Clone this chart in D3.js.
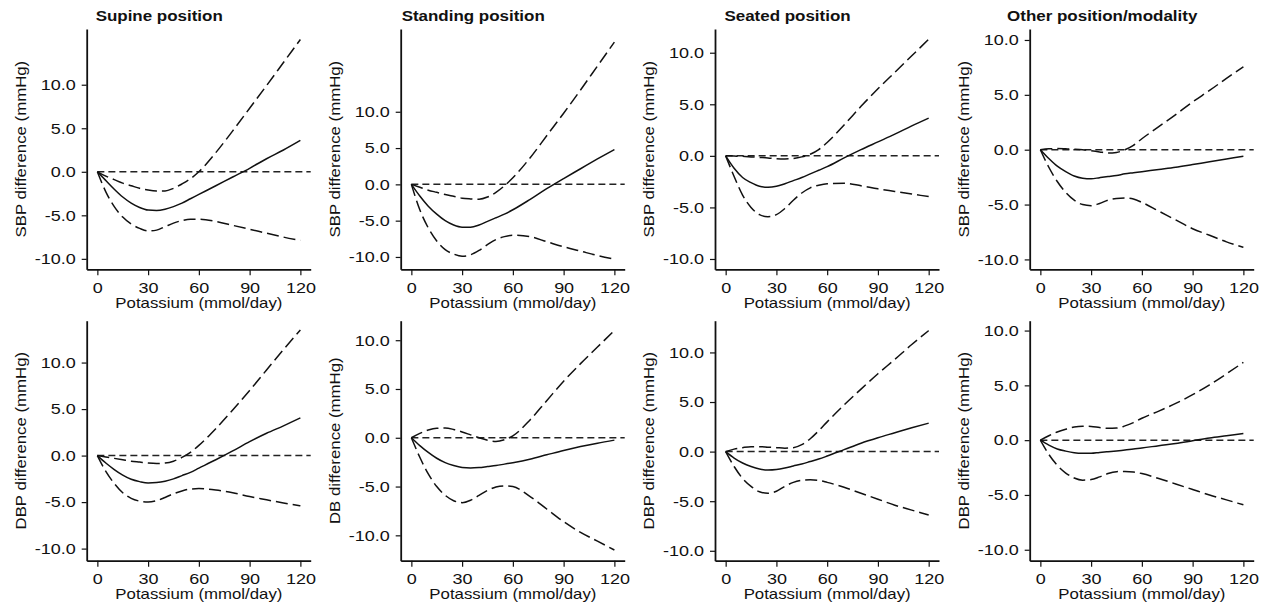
<!DOCTYPE html>
<html>
<head>
<meta charset="utf-8">
<script src="https://cdn.jsdelivr.net/npm/d3@7"></script>
<style>
  body { margin: 0; background: #fff; }
  svg { display: block; font-family: "Liberation Sans", Arial, sans-serif; }
  .axis path, .axis line { stroke: #111; }
  .axis text { font-size: 15px; fill: #111; font-family: "Liberation Sans", Arial, sans-serif; }
</style>
</head>
<body>
<svg id="chart" width="1268" height="610"></svg>
<script>
// potassium grid (mmol/day)
var potassium = [0, 5, 10, 15, 20, 25, 30, 35, 40, 45, 50, 55, 60, 70, 80, 90, 100, 110, 120];

var titles = ['Supine position', 'Standing position', 'Seated position', 'Other position/modality'];
var yLabels = ['SBP difference (mmHg)', 'SBP difference (mmHg)', 'SBP difference (mmHg)', 'SBP difference (mmHg)',
               'DBP difference (mmHg)', 'DB difference (mmHg)', 'DBP difference (mmHg)', 'DBP difference (mmHg)'];
var xTicks = [0, 30, 60, 90, 120];
var yTicks = [-10, -5, 0, 5, 10];
var yExtents = [[-11.2, 16.4], [-11.7, 21.4], [-11.0, 12.3], [-10.9, 11.0],
                [-11.3, 14.5], [-12.6, 12.0], [-11.0, 13.2], [-11.0, 10.9]];

// SBP, supine
var sbpSupineEst = [0, -1.0, -2.0, -2.9, -3.6, -4.1, -4.4, -4.45, -4.3, -4.0, -3.6, -3.1, -2.6, -1.6, -0.6, 0.4, 1.5, 2.5, 3.6];
var sbpSupineHi  = [0, -0.5, -0.9, -1.3, -1.6, -1.9, -2.1, -2.2, -2.2, -1.9, -1.4, -0.8, 0.0, 2.2, 4.7, 7.3, 9.9, 12.55, 15.2];
var sbpSupineLo  = [0, -2.3, -4.0, -5.2, -6.0, -6.5, -6.8, -6.7, -6.3, -5.9, -5.6, -5.45, -5.45, -5.7, -6.15, -6.6, -7.05, -7.5, -7.9];
// SBP, standing
var sbpStandEst = [0, -1.6, -3.0, -4.1, -5.0, -5.6, -5.9, -5.9, -5.6, -5.1, -4.6, -4.1, -3.5, -2.1, -0.6, 0.8, 2.15, 3.5, 4.8];
var sbpStandHi  = [0, -0.4, -0.8, -1.1, -1.4, -1.65, -1.9, -2.0, -2.05, -1.75, -1.1, -0.2, 0.9, 3.6, 6.7, 9.8, 13.0, 16.3, 19.6];
var sbpStandLo  = [0, -3.5, -6.0, -7.8, -9.0, -9.6, -9.9, -9.7, -9.1, -8.3, -7.6, -7.2, -7.0, -7.2, -7.9, -8.6, -9.2, -9.8, -10.3];
// SBP, seated
var sbpSeatEst = [0, -1.2, -2.1, -2.6, -2.95, -3.05, -2.95, -2.7, -2.4, -2.1, -1.75, -1.4, -1.05, -0.2, 0.6, 1.35, 2.1, 2.9, 3.66];
var sbpSeatHi  = [0, -0.02, -0.05, -0.1, -0.15, -0.2, -0.28, -0.3, -0.25, -0.1, 0.15, 0.6, 1.3, 3.0, 4.8, 6.5, 8.1, 9.7, 11.3];
var sbpSeatLo  = [0, -2.0, -3.8, -5.0, -5.7, -5.9, -5.7, -5.1, -4.3, -3.6, -3.1, -2.85, -2.7, -2.65, -2.9, -3.2, -3.45, -3.7, -3.95];
// SBP, other
var sbpOtherEst = [0, -0.8, -1.5, -2.0, -2.4, -2.6, -2.65, -2.55, -2.45, -2.35, -2.2, -2.1, -2.0, -1.8, -1.6, -1.35, -1.1, -0.85, -0.6];
var sbpOtherHi  = [0, 0.08, 0.1, 0.08, 0.05, 0.0, -0.1, -0.2, -0.3, -0.25, 0.0, 0.4, 1.0, 2.1, 3.2, 4.35, 5.4, 6.5, 7.56];
var sbpOtherLo  = [0, -1.6, -2.9, -3.9, -4.6, -5.0, -5.1, -4.9, -4.6, -4.45, -4.4, -4.5, -4.8, -5.6, -6.4, -7.2, -7.8, -8.4, -8.9];
// DBP, supine
var dbpSupineEst = [0, -0.8, -1.5, -2.1, -2.55, -2.8, -2.95, -2.9, -2.75, -2.5, -2.15, -1.8, -1.35, -0.45, 0.5, 1.5, 2.4, 3.2, 4.05];
var dbpSupineHi  = [0, -0.15, -0.3, -0.45, -0.6, -0.7, -0.8, -0.85, -0.8, -0.6, -0.2, 0.35, 1.1, 2.9, 4.9, 7.0, 9.2, 11.4, 13.5];
var dbpSupineLo  = [0, -1.7, -3.0, -4.0, -4.6, -4.9, -5.0, -4.85, -4.5, -4.1, -3.8, -3.6, -3.55, -3.7, -4.0, -4.4, -4.75, -5.1, -5.4];
// DBP, standing
var dbpStandEst = [0, -0.8, -1.5, -2.1, -2.55, -2.85, -3.05, -3.1, -3.05, -2.95, -2.85, -2.7, -2.55, -2.2, -1.75, -1.3, -0.9, -0.55, -0.24];
var dbpStandHi  = [0, 0.45, 0.8, 0.98, 1.0, 0.85, 0.6, 0.3, 0.0, -0.25, -0.38, -0.2, 0.2, 1.8, 3.8, 5.8, 7.6, 9.3, 11.0];
var dbpStandLo  = [0, -2.0, -3.7, -5.0, -5.9, -6.45, -6.65, -6.4, -5.9, -5.4, -5.05, -4.93, -5.0, -6.0, -7.3, -8.6, -9.7, -10.6, -11.5];
// DBP, seated
var dbpSeatEst = [0, -0.65, -1.15, -1.5, -1.75, -1.85, -1.8, -1.65, -1.45, -1.25, -1.0, -0.75, -0.45, 0.2, 0.85, 1.4, 1.9, 2.4, 2.87];
var dbpSeatHi  = [0, 0.25, 0.4, 0.5, 0.5, 0.45, 0.4, 0.35, 0.4, 0.7, 1.3, 2.1, 3.0, 4.7, 6.3, 7.85, 9.3, 10.8, 12.2];
var dbpSeatLo  = [0, -1.5, -2.7, -3.5, -4.05, -4.2, -4.0, -3.5, -3.1, -2.9, -2.85, -2.9, -3.1, -3.6, -4.2, -4.8, -5.4, -5.9, -6.4];
// DBP, other
var dbpOtherEst = [0, -0.45, -0.8, -1.0, -1.15, -1.2, -1.2, -1.12, -1.05, -0.98, -0.9, -0.8, -0.72, -0.5, -0.3, -0.05, 0.2, 0.4, 0.6];
var dbpOtherHi  = [0, 0.4, 0.75, 1.0, 1.2, 1.27, 1.25, 1.15, 1.08, 1.1, 1.3, 1.6, 2.0, 2.65, 3.35, 4.15, 5.05, 6.05, 7.1];
var dbpOtherLo  = [0, -1.3, -2.3, -3.0, -3.45, -3.65, -3.6, -3.35, -3.05, -2.88, -2.85, -2.9, -3.05, -3.5, -4.0, -4.5, -5.0, -5.45, -5.9];

var panels = [
  [sbpSupineEst, sbpSupineHi, sbpSupineLo],
  [sbpStandEst, sbpStandHi, sbpStandLo],
  [sbpSeatEst, sbpSeatHi, sbpSeatLo],
  [sbpOtherEst, sbpOtherHi, sbpOtherLo],
  [dbpSupineEst, dbpSupineHi, dbpSupineLo],
  [dbpStandEst, dbpStandHi, dbpStandLo],
  [dbpSeatEst, dbpSeatHi, dbpSeatLo],
  [dbpOtherEst, dbpOtherHi, dbpOtherLo]
];

// layout
var colX = [86.7, 400.7, 715, 1029.7];
var rowY = [[29, 269.3], [320.7, 560.7]];
var axisLen = 224;
var stretch = 1.2;   // the original lettering is wider than Helvetica

var svg = d3.select('#chart');
var fmt = function(d) { return d.toFixed(1); };

panels.forEach(function(series, i) {
  var col = i % 4, row = Math.floor(i / 4);
  var x0 = colX[col];
  var top = rowY[row][0], bottom = rowY[row][1];

  var xScale = d3.scaleLinear()
      .domain([-6.3, 126.1])
      .range([x0, x0 + axisLen]);

  var yScale = d3.scaleLinear()
      .domain(yExtents[i])
      .range([bottom, top]);

  var g = svg.append('g');

  g.append('g')
      .attr('class', 'axis')
      .attr('transform', 'translate(0,' + bottom + ')')
      .call(d3.axisBottom(xScale).tickValues(xTicks).tickSizeInner(6).tickSizeOuter(0).tickPadding(7))
      .call(function(a) {
        a.select('.domain').attr('stroke-width', 1.8);
        a.selectAll('line').attr('stroke-width', 1.2);
        a.selectAll('text').attr('transform', 'scale(' + stretch + ',1)');
      });

  g.append('g')
      .attr('class', 'axis')
      .attr('transform', 'translate(' + x0 + ',0)')
      .call(d3.axisLeft(yScale).tickValues(yTicks).tickFormat(fmt).tickSizeInner(5).tickSizeOuter(0).tickPadding(6))
      .call(function(a) {
        a.select('.domain').attr('stroke-width', 1.8);
        a.selectAll('line').attr('stroke-width', 1.2);
        a.selectAll('text').attr('x', 0).attr('transform', 'translate(-11,0) scale(' + stretch + ',1)');
      });

  // zero reference line
  g.append('line')
      .attr('x1', xScale(0)).attr('x2', xScale(126.1))
      .attr('y1', yScale(0)).attr('y2', yScale(0))
      .attr('stroke', '#222')
      .attr('stroke-width', 1.5)
      .attr('stroke-dasharray', '7,4');

  var line = d3.line()
      .x(function(d, j) { return xScale(potassium[j]); })
      .y(function(d) { return yScale(d); })
      .curve(d3.curveMonotoneX);

  g.append('path')
      .attr('d', line(series[0]))
      .attr('fill', 'none')
      .attr('stroke', '#111')
      .attr('stroke-width', 1.5);

  [series[1], series[2]].forEach(function(s) {
    g.append('path')
        .attr('d', line(s))
        .attr('fill', 'none')
        .attr('stroke', '#111')
        .attr('stroke-width', 1.5)
        .attr('stroke-dasharray', '12,5');
  });

  // axis titles
  g.append('text')
      .attr('transform', 'translate(' + ((xScale(0) + xScale(120)) / 2) + ',' + (bottom + 38.4) + ') scale(' + stretch + ',1)')
      .attr('text-anchor', 'middle')
      .attr('font-size', 14)
      .attr('fill', '#111')
      .text('Potassium (mmol/day)');

  g.append('text')
      .attr('transform', 'translate(' + (x0 - 61) + ',' + ((top + bottom) / 2) + ') rotate(-90) scale(' + stretch + ',1)')
      .attr('text-anchor', 'middle')
      .attr('font-size', 14)
      .attr('fill', '#111')
      .text(yLabels[i]);

  if (row === 0) {
    g.append('text')
        .attr('transform', 'translate(' + (x0 + 72.5) + ',21) scale(1.17,1)')
        .attr('text-anchor', 'middle')
        .attr('font-size', 14.5)
        .attr('font-weight', 'bold')
        .attr('fill', '#111')
        .text(titles[col]);
  }
});
</script>
</body>
</html>
